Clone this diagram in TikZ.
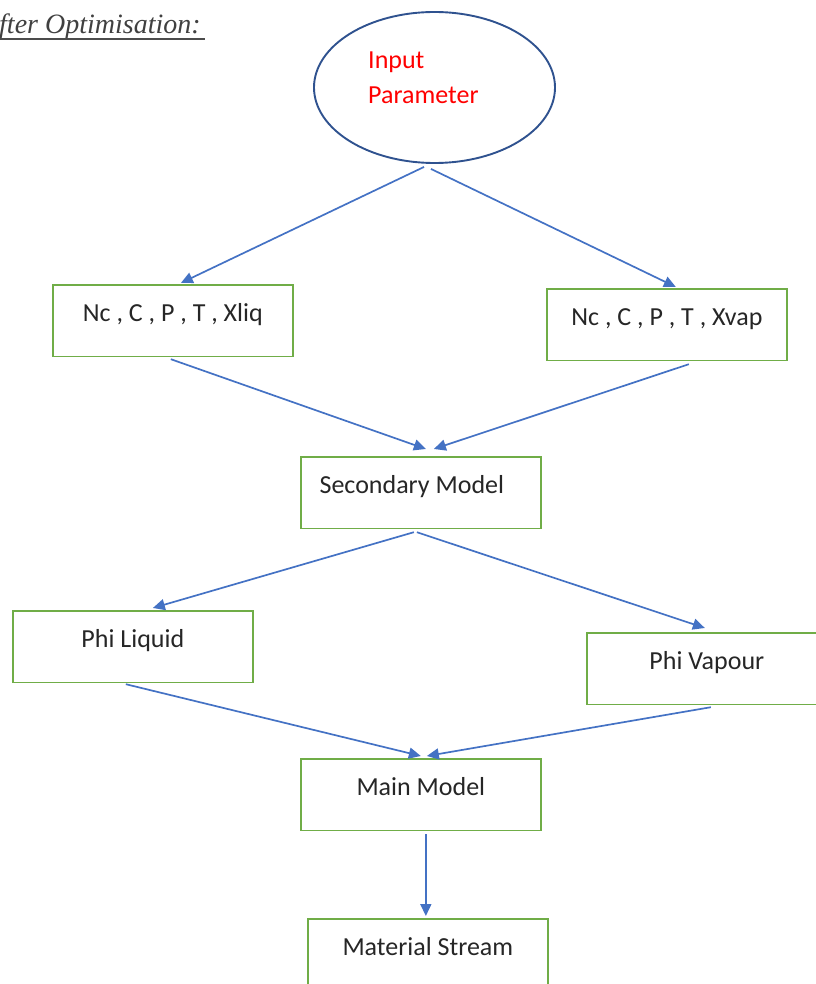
\documentclass[tikz,border=0pt]{standalone}
\usepackage{fontspec}
\setmainfont{Carlito}
\newfontfamily\titlefont{Liberation Serif}
\usetikzlibrary{arrows.meta,shapes.geometric}
\definecolor{boxgreen}{HTML}{70AD47}
\definecolor{arrowblue}{HTML}{4472C4}
\definecolor{ellblue}{HTML}{2F528F}
\begin{document}
\begin{tikzpicture}[x=1pt,y=-1pt,
  stepbox/.style={draw=boxgreen,line width=1.7pt,rectangle,anchor=north west,
    minimum width=240pt,inner sep=0pt,text height=36.5pt,text depth=35pt,
    font=\fontsize{26}{30}\selectfont,text=black!85},
  flow/.style={draw=arrowblue,line width=1.7pt,-{Triangle[length=12pt,width=11pt]}}]
\useasboundingbox (0,0) rectangle (815,984);
% title
\node[anchor=base west,inner sep=0pt,font=\titlefont\itshape\fontsize{28}{30}\selectfont,text=black!75] (title) at (-1,34) {fter Optimisation:};
\draw[black!70,line width=1.5pt] ([yshift=-5pt]title.base west) -- ([xshift=4pt,yshift=-5pt]title.base east);
% ellipse
\node[ellipse,draw=ellblue,line width=1.9pt,minimum width=241pt,minimum height=151pt,inner sep=0pt] (ell) at (434.5,87.5) {};
\node[anchor=base west,inner sep=0pt,align=left,text=red,font=\fontsize{26}{35}\selectfont] (inp) at (368,104) {Input\\Parameter};
% boxes
\node[stepbox] (b1) at (52,284) {Nc , C , P , T , Xliq};
\node[stepbox] (b2) at (546,288) {Nc , C , P , T , Xvap};
\node[stepbox] (sec) at (300,456) {Secondary Model\hspace*{18pt}};
\node[stepbox] (pl) at (12,610) {Phi Liquid};
\node[stepbox] (pv) at (586,632) {Phi Vapour};
\node[stepbox] (mm) at (300,758) {Main Model};
\node[stepbox] (ms) at (307,918) {Material Stream};
% arrows
\draw[flow] ([xshift=-10.5pt,yshift=-3pt]ell.south) -- ([xshift=8pt,yshift=1pt]b1.north);
\draw[flow] ([xshift=-3.5pt,yshift=-5pt]ell.south) -- ([xshift=9pt,yshift=1pt]b2.north);
\draw[flow] ([xshift=-2pt,yshift=-2pt]b1.south) -- ([xshift=5pt,yshift=7pt]sec.north);
\draw[flow] ([xshift=22pt,yshift=-3pt]b2.south) -- ([xshift=13pt,yshift=7pt]sec.north);
\draw[flow] ([xshift=-7pt,yshift=-3pt]sec.south) -- ([xshift=20pt,yshift=2pt]pl.north);
\draw[flow] ([xshift=-4pt,yshift=-3pt]sec.south) -- ([xshift=-2pt,yshift=4pt]pv.north);
\draw[flow] ([xshift=-7pt,yshift=-1pt]pl.south) -- ([xshift=0pt,yshift=2pt]mm.north);
\draw[flow] ([xshift=4pt,yshift=-2pt]pv.south) -- ([xshift=6pt,yshift=2pt]mm.north);
\draw[flow] ([xshift=5pt,yshift=-3pt]mm.south) -- ([xshift=-2pt,yshift=2pt]ms.north);
\end{tikzpicture}
\end{document}
